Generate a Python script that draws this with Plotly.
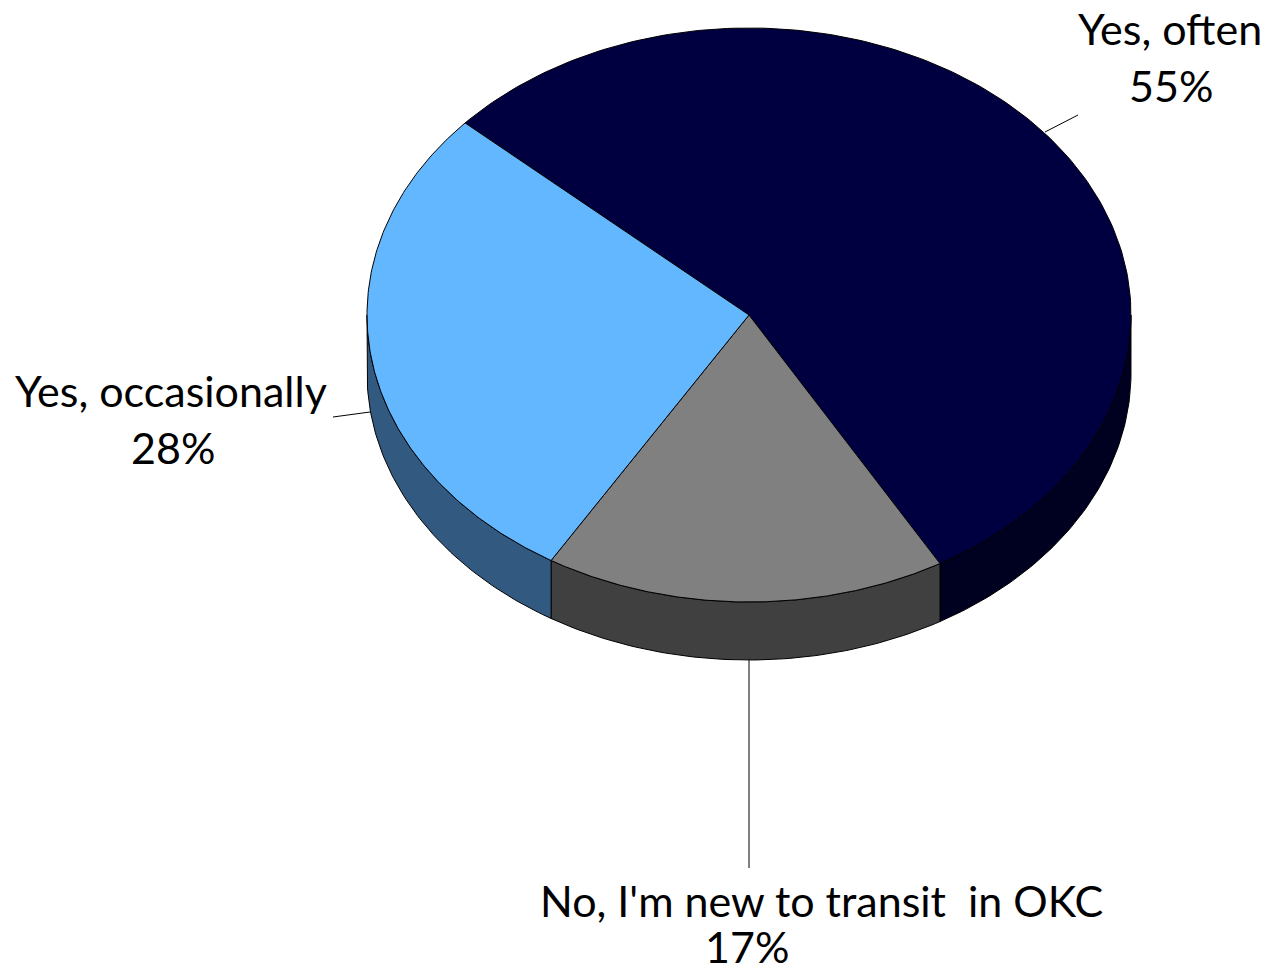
import numpy as np
import plotly.graph_objects as go

# Survey answers and their shares (percent)
labels = ["Yes, often", "No, I'm new to transit  in OKC", "Yes, occasionally"]
values = [55, 17, 28]

top_colors = ["#000040", "#808080", "#63B7FF"]
side_colors = ["#000020", "#404040", "#325A80"]

# 3D pie geometry (canvas pixels, y grows downward)
W, H = 1270, 976
cx, cy = 749, 315
rx, ry = 382, 287
depth = 58
start_deg = 138.0

def ell(theta_deg, dy=0.0):
    t = np.radians(theta_deg)
    return cx + rx * np.cos(t), cy - ry * np.sin(t) + dy

fig = go.Figure()

total = float(sum(values))
bounds = [start_deg]
for v in values:
    bounds.append(bounds[-1] - v / total * 360.0)

# side walls: visible part of the rim is where the ellipse faces the viewer
for i in range(len(values)):
    hi, lo = bounds[i], bounds[i + 1]
    for k in (-1, 0, 1):
        a0, a1 = -180 + 360 * k, 0 + 360 * k
        s, e = max(lo, a0), min(hi, a1)
        if e - s <= 1e-6:
            continue
        th = np.linspace(e, s, 80)
        xt, yt = ell(th)
        xb, yb = ell(th[::-1], depth)
        xs = np.concatenate([xt, xb, xt[:1]])
        ys = np.concatenate([yt, yb, yt[:1]])
        fig.add_trace(go.Scatter(x=xs, y=ys, mode="lines", fill="toself",
                                 fillcolor=side_colors[i],
                                 line=dict(color="#000000", width=1),
                                 hoverinfo="skip", showlegend=False))

# top faces of the slices
for i in range(len(values)):
    th = np.linspace(bounds[i], bounds[i + 1], 200)
    xt, yt = ell(th)
    xs = np.concatenate([[cx], xt, [cx]])
    ys = np.concatenate([[cy], yt, [cy]])
    fig.add_trace(go.Scatter(x=xs, y=ys, mode="lines", fill="toself",
                             fillcolor=top_colors[i],
                             line=dict(color="#000000", width=1),
                             hoverinfo="skip", showlegend=False))

# leader lines from each slice to its label
leaders = [
    ([1045, 1078], [132, 115]),
    ([749, 749], [cy + ry + depth, 868]),
    ([333, 370], [417, 412]),
]
for lx, ly in leaders:
    fig.add_trace(go.Scatter(x=lx, y=ly, mode="lines",
                             line=dict(color="#000000", width=1),
                             hoverinfo="skip", showlegend=False))

font = dict(family="Lato, Open Sans, sans-serif", size=43, color="#000000")
pct = [f"{v}%" for v in values]
label_pos = [
    [(1170, 28, labels[0]), (1171, 85, pct[0])],
    [(821, 900, labels[1]), (747, 946, pct[1])],
    [(171, 390, labels[2]), (173, 447, pct[2])],
]
for group in label_pos:
    for x, y, txt in group:
        fig.add_annotation(x=x, y=y, xref="x", yref="y", text=txt,
                           showarrow=False, font=font,
                           xanchor="center", yanchor="middle")

fig.update_layout(
    width=W, height=H,
    margin=dict(l=0, r=0, t=0, b=0),
    paper_bgcolor="#ffffff", plot_bgcolor="#ffffff",
    xaxis=dict(range=[0, W], visible=False, fixedrange=True),
    yaxis=dict(range=[H, 0], visible=False, fixedrange=True),
    showlegend=False,
)

fig.write_html("out.html")
